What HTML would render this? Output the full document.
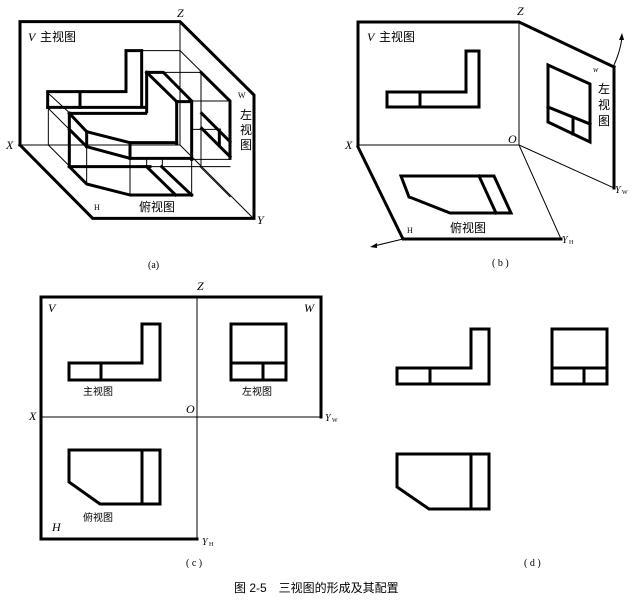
<!DOCTYPE html>
<html><head><meta charset="utf-8"><style>
html,body{margin:0;padding:0;background:#fff}
svg{display:block}
text{font-family:"Liberation Serif","Noto Sans CJK SC",serif;fill:#000;stroke:none}
.cj{font-family:"Liberation Sans","Noto Sans CJK SC",sans-serif}
.it{font-style:italic}
</style></head><body>
<svg width="640" height="600" viewBox="0 0 640 600" xmlns="http://www.w3.org/2000/svg" fill="none" stroke-linecap="square">
<g stroke="#000">
<!-- (a) in 3x coords -->
<g transform="scale(0.3333333)">
 <g stroke-width="3">
  <line x1="540" y1="65" x2="540" y2="435"/>
  <line x1="60" y1="435" x2="540" y2="435"/>
  <line x1="540" y1="435" x2="755" y2="650"/>
  <line x1="425" y1="152" x2="540" y2="152"/>
  <line x1="540" y1="152" x2="690" y2="300"/>
  <line x1="490" y1="217" x2="603" y2="217"/>
  <line x1="603" y1="217" x2="603" y2="500"/>
  <line x1="575" y1="303" x2="690" y2="303"/>
  <line x1="575" y1="388" x2="660" y2="388"/>
  <line x1="145" y1="280" x2="210" y2="340"/>
  <line x1="145" y1="325" x2="205" y2="385"/>
  <line x1="145" y1="322" x2="145" y2="435"/>
  <line x1="145" y1="435" x2="210" y2="500"/>
  <line x1="260" y1="440" x2="260" y2="552"/>
  <line x1="390" y1="475" x2="390" y2="585"/>
  <line x1="440" y1="475" x2="440" y2="500"/>
  <line x1="487" y1="475" x2="487" y2="500"/>
  <line x1="575" y1="478" x2="575" y2="585"/>
  <line x1="390" y1="500" x2="690" y2="500"/>
  <line x1="600" y1="500" x2="690" y2="590"/>
  <line x1="575" y1="478" x2="690" y2="478"/>
 </g>
 <g stroke-width="9">
  <polyline points="60,435 60,65 540,65 762,285 762,655 278,655 60,435"/>
  <polyline points="143,322 143,275 378,275 378,152 425,152 425,320"/>
  <line x1="143" y1="322" x2="437" y2="322"/>
  <line x1="240" y1="278" x2="240" y2="322"/>
  <polyline points="440,217 490,217 575,303 575,478"/>
  <line x1="440" y1="217" x2="530" y2="305"/>
  <polyline points="440,217 440,335"/>
  <line x1="530" y1="305" x2="575" y2="305"/>
  <line x1="530" y1="305" x2="530" y2="430"/>
  <line x1="208" y1="340" x2="437" y2="340"/>
  <line x1="208" y1="340" x2="208" y2="500"/>
  <polyline points="208,340 260,395 390,428 530,428"/>
  <polyline points="208,388 260,440 390,475 575,475"/>
  <line x1="260" y1="395" x2="260" y2="440"/>
  <line x1="390" y1="428" x2="390" y2="475"/>
  <line x1="208" y1="500" x2="450" y2="500"/>
  <polyline points="208,500 260,552 390,585 575,585"/>
  <line x1="440" y1="500" x2="527" y2="585"/>
  <line x1="485" y1="500" x2="575" y2="585"/>
  <polyline points="603,217 690,303 690,475"/>
  <line x1="605" y1="340" x2="690" y2="425"/>
  <line x1="605" y1="385" x2="690" y2="470"/>
  <line x1="658" y1="390" x2="658" y2="437"/>
 </g>
</g>

<!-- (b) -->
<g stroke-width="3">
 <polyline points="358,145 358,22 519,22 614,67"/>
 <line x1="614" y1="67" x2="614" y2="188"/>
 <polyline points="358,147 403,239 561,239"/>
 <polyline points="387,92 466,92 466,51 479,51 479,107 387,107 387,92"/>
 <line x1="420" y1="92" x2="420" y2="107"/>
 <polygon points="548,65 590,84 590,142 548,122"/>
 <line x1="548" y1="107" x2="590" y2="124"/>
 <line x1="573" y1="118" x2="573" y2="134"/>
 <polygon points="401,176 494,176 511,213 450,213 412,198 409,197"/>
 <line x1="479" y1="176" x2="496" y2="213"/>
</g>
<g stroke-width="1">
 <line x1="519" y1="22" x2="519" y2="145"/>
 <line x1="358" y1="145" x2="519" y2="145"/>
 <line x1="519" y1="145" x2="614" y2="188"/>
 <line x1="519" y1="145" x2="561" y2="239"/>
 <line x1="403" y1="239" x2="374" y2="246"/>
 <path d="M614,65 Q620,52 622,38"/>
</g>

<!-- (c) -->
<g stroke-width="3">
 <polyline points="41,539 41,297 321,297 321,417"/>
 <line x1="41" y1="539" x2="197" y2="539"/>
 <polyline points="69,363 142,363 142,324 160,324 160,380 69,380 69,363"/>
 <line x1="101" y1="363" x2="101" y2="380"/>
 <rect x="231" y="324" width="55" height="56"/>
 <line x1="231" y1="363" x2="286" y2="363"/>
 <line x1="263" y1="363" x2="263" y2="380"/>
 <polygon points="69,450 160,450 160,504 100,504 69,482"/>
 <line x1="142" y1="450" x2="142" y2="504"/>
</g>
<g stroke-width="1">
 <line x1="197" y1="297" x2="197" y2="539"/>
 <line x1="41" y1="417" x2="321" y2="417"/>
</g>

<!-- (d) -->
<g stroke-width="3">
 <polyline points="397,368 471,368 471,329 489,329 489,384 397,384 397,368"/>
 <line x1="430" y1="368" x2="430" y2="384"/>
 <rect x="552" y="329" width="55" height="55"/>
 <line x1="552" y1="368" x2="607" y2="368"/>
 <line x1="584" y1="368" x2="584" y2="384"/>
 <polygon points="397,454 489,454 489,509 429,509 397,487"/>
 <line x1="471" y1="454" x2="471" y2="509"/>
</g>
</g>
<polygon points="370,247 377,243 377,248" fill="#000"/>
<polygon points="622,33 619,40 624,40" fill="#000"/>

<text x="28" y="41" font-size="12" class="it">V</text>
<text x="40" y="41" font-size="12" class="cj">主视图</text>
<text x="177" y="17" font-size="12" class="it">Z</text>
<text x="6" y="149" font-size="12" class="it">X</text>
<text x="257" y="224" font-size="12" class="it">Y</text>
<text x="238" y="98" font-size="8">W</text>
<text x="240" y="119" font-size="12" class="cj">左</text>
<text x="240" y="134" font-size="12" class="cj">视</text>
<text x="240" y="149" font-size="12" class="cj">图</text>
<text x="94" y="210" font-size="8">H</text>
<text x="139" y="211" font-size="12" class="cj">俯视图</text>
<text x="148" y="268" font-size="10">(a)</text>

<text x="367" y="41" font-size="12" class="it">V</text>
<text x="379" y="41" font-size="12" class="cj">主视图</text>
<text x="517" y="15" font-size="12" class="it">Z</text>
<text x="345" y="149" font-size="12" class="it">X</text>
<text x="508" y="143" font-size="12" class="it">O</text>
<text x="593" y="72" font-size="8" class="it">w</text>
<text x="598" y="93" font-size="12" class="cj">左</text>
<text x="598" y="109" font-size="12" class="cj">视</text>
<text x="598" y="125" font-size="12" class="cj">图</text>
<text x="615" y="193" font-size="10" class="it">Y</text><text x="622" y="194" font-size="6">W</text>
<text x="407" y="233" font-size="8">H</text>
<text x="450" y="232" font-size="12" class="cj">俯视图</text>
<text x="562" y="243" font-size="10" class="it">Y</text><text x="569" y="244" font-size="6">H</text>
<text x="492" y="266" font-size="10">( b )</text>

<text x="83" y="395" font-size="10" class="cj">主视图</text>
<text x="242" y="395" font-size="10" class="cj">左视图</text>
<text x="83" y="521" font-size="10" class="cj">俯视图</text>
<text x="48" y="312" font-size="12" class="it">V</text>
<text x="304" y="312" font-size="12" class="it">W</text>
<text x="52" y="531" font-size="12" class="it">H</text>
<text x="197" y="290" font-size="12" class="it">Z</text>
<text x="186" y="413" font-size="12" class="it">O</text>
<text x="29" y="420" font-size="12" class="it">X</text>
<text x="325" y="421" font-size="10" class="it">Y</text><text x="332" y="422" font-size="6">W</text>
<text x="202" y="545" font-size="10" class="it">Y</text><text x="209" y="546" font-size="6">H</text>
<text x="186" y="566" font-size="10">( c )</text>

<text x="524" y="566" font-size="10">( d )</text>

<text x="234" y="592" font-size="12" class="cj">图 2-5　三视图的形成及其配置</text>
</svg>
</body></html>
